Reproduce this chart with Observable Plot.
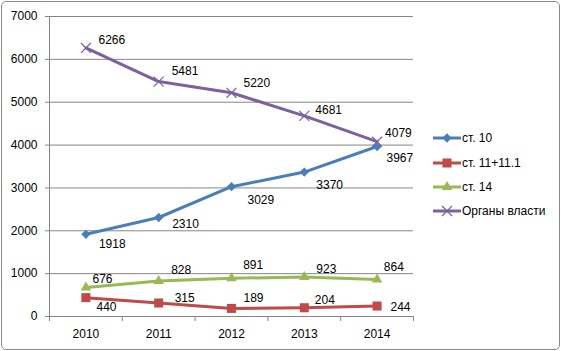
<!DOCTYPE html>
<html><head><meta charset="utf-8">
<script src="https://cdn.jsdelivr.net/npm/d3@7"></script>
<script src="https://cdn.jsdelivr.net/npm/@observablehq/plot@0.6"></script>
<style>
body{margin:0;background:#fff;}
#wrap{position:relative;width:561px;height:351px;font-family:"Liberation Sans",Arial,sans-serif;overflow:hidden;}
#frame{position:absolute;left:1px;top:1px;width:559px;height:349px;box-sizing:border-box;border:1px solid #8a8a8a;border-radius:5px;pointer-events:none;}
#chart{position:absolute;left:0;top:0;}
#legend{position:absolute;left:433px;top:126px;font-size:12px;color:#000;}
.item{display:flex;align-items:center;height:24.4px;}
.item svg{display:block;margin-right:1px;}
</style>
</head><body>
<div id="wrap"><div id="chart"></div><div id="legend"></div><div id="frame"></div></div>
<script>
// ---- data ----
const years = [2010, 2011, 2012, 2013, 2014];
const seriesNames = ["ст. 10", "ст. 11+11.1", "ст. 14", "Органы власти"];
const st10 = [1918, 2310, 3029, 3370, 3967];
const st11 = [440, 315, 189, 204, 244];
const st14 = [676, 828, 891, 923, 864];
const organs = [6266, 5481, 5220, 4681, 4079];
const yTicks = [0, 1000, 2000, 3000, 4000, 5000, 6000, 7000];

// ---- styling ----
const colors = ["#4A7EBB", "#BE4B48", "#98B954", "#7D60A0"];
const symbols = ["diamond2", "square", "triangle", "times"];
const radii = [4.2, 5.1, 3.9, 4.6];
// label offsets [dx, dy] in pixels per series/point
const labelOffsets = [
  [[13,9.5],[13.5,6.3],[16,13],[12,13.4],[9.4,12]],
  [[10.6,9.6],[16,-5],[12,-10],[10.5,-7.3],[13.4,1]],
  [[6.6,-8.7],[12.5,-10.5],[11.7,-12.8],[12,-7.4],[6.7,-12.3]],
  [[12.6,-7.5],[13,-10],[12,-9.6],[11,-6],[8,-9]]
];

const allValues = [st10, st11, st14, organs];
const rows = seriesNames.flatMap((name, si) =>
  years.map((year, i) => ({series: name, si, i, year, value: allValues[si][i]})));
const boundaries = d3.range(years.length + 1).map(k => years[0] - 0.5 + k);

const grey = "#868686";
const marks = [
  Plot.gridY(yTicks, {stroke: grey, strokeOpacity: 1}),
  Plot.ruleX([boundaries[0]], {stroke: grey}),
  Plot.ruleY([0], {stroke: grey}),
  Plot.axisY(yTicks, {tickSize: 4, tickPadding: 8, stroke: grey, fill: "black", fontSize: 12, tickFormat: d => String(d), label: null}),
  Plot.axisX(years, {tickSize: 0, tickPadding: 13, fill: "black", fontSize: 12, tickFormat: d => String(d), label: null}),
  Plot.axisX(boundaries, {tickSize: 5, stroke: grey, fill: "none", label: null}),
  Plot.line(rows, {x: "year", y: "value", z: "series", stroke: "series", strokeWidth: 3, strokeLinejoin: "round"})
];
seriesNames.forEach((name, si) => {
  const data = rows.filter(d => d.si === si);
  if (symbols[si] === "times") {
    marks.push(Plot.dot(data, {x: "year", y: "value", symbol: "times", r: radii[si], stroke: colors[si], strokeWidth: 1.2, fill: "none"}));
  } else {
    marks.push(Plot.dot(data, {x: "year", y: "value", symbol: symbols[si], r: radii[si], fill: colors[si], stroke: "none"}));
  }
  data.forEach((d, i) => {
    const [dx, dy] = labelOffsets[si][i];
    marks.push(Plot.text([d], {x: "year", y: "value", text: d => String(d.value), dx, dy, textAnchor: "start", fill: "black", fontSize: 12}));
  });
});

const chart = Plot.plot({
  width: 561, height: 351,
  marginLeft: 49, marginRight: 148, marginTop: 16, marginBottom: 35,
  style: {fontFamily: '"Liberation Sans", Arial, sans-serif', fontSize: "12px", background: "transparent"},
  x: {domain: [boundaries[0], boundaries[boundaries.length - 1]], axis: null},
  y: {domain: [0, 7000], axis: null},
  color: {domain: seriesNames, range: colors},
  marks
});
document.getElementById("chart").appendChild(chart);

// legend
const legend = document.getElementById("legend");
seriesNames.forEach((name, si) => {
  const item = document.createElement("div");
  item.className = "item";
  const svg = d3.create("svg").attr("width", 28).attr("height", 14);
  svg.append("line").attr("x1", 0).attr("x2", 28).attr("y1", 7).attr("y2", 7)
    .attr("stroke", colors[si]).attr("stroke-width", 3);
  const symMap = {diamond2: d3.symbolDiamond2, square: d3.symbolSquare, triangle: d3.symbolTriangle, times: d3.symbolTimes};
  const size = Math.PI * radii[si] * radii[si];
  const p = svg.append("path").attr("d", d3.symbol(symMap[symbols[si]], size)()).attr("transform", "translate(14,7)");
  if (symbols[si] === "times") p.attr("fill", "none").attr("stroke", colors[si]).attr("stroke-width", 1.2);
  else p.attr("fill", colors[si]);
  item.appendChild(svg.node());
  const span = document.createElement("span");
  span.textContent = name;
  item.appendChild(span);
  legend.appendChild(item);
});
</script>
</body></html>
